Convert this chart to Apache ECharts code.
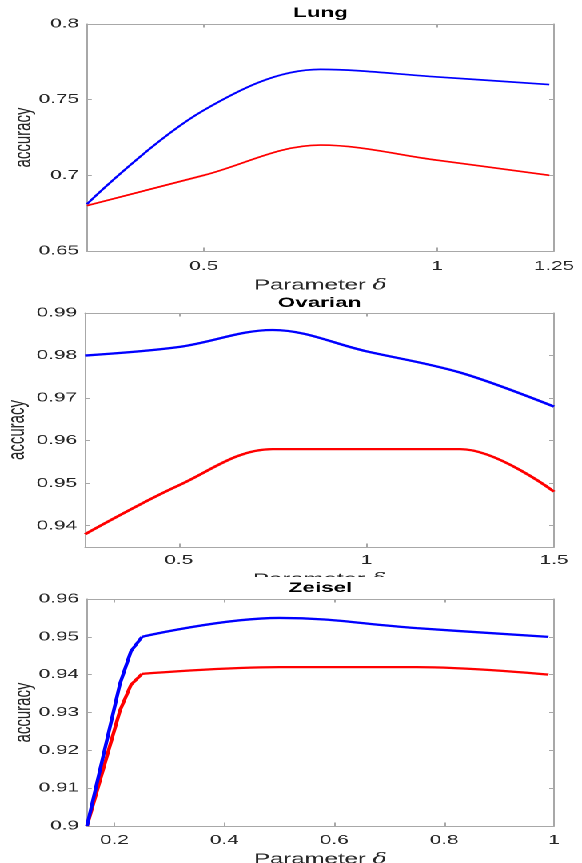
<!DOCTYPE html>
<html><head><meta charset="utf-8">
<script src="https://cdn.jsdelivr.net/npm/echarts@6/dist/echarts.min.js"></script>
<style>
html,body{margin:0;padding:0;background:#fff;width:582px;height:863px;overflow:hidden}
.c{position:absolute;left:0;width:364px;overflow:hidden;background:#fff;transform-origin:0 0;transform:scaleX(1.5989)}
</style></head>
<body>
<div id="lung" class="c" style="top:0;height:290px"></div>
<div id="ovarian" class="c" style="top:290px;height:287px"></div>
<div id="zeisel" class="c" style="top:577px;height:286px"></div>
<script>
// ---- data ----
const lungDelta = [0.25, 0.5, 0.75, 1.0, 1.24];
const lungBlue  = [0.681, 0.743, 0.770, 0.765, 0.760];
const lungRed   = [0.680, 0.700, 0.720, 0.710, 0.700];
const lungXTicks = [0.5, 1, 1.25];
const lungYTicks = [0.65, 0.7, 0.75, 0.8];

const ovarianDelta = [0.25, 0.5, 0.75, 1.0, 1.25, 1.5];
const ovarianBlue  = [0.980, 0.982, 0.986, 0.981, 0.976, 0.968];
const ovarianRed   = [0.938, 0.9495, 0.958, 0.958, 0.958, 0.948];
const ovarianXTicks = [0.5, 1, 1.5];
const ovarianYTicks = [0.94, 0.95, 0.96, 0.97, 0.98, 0.99];

const zeiselDelta = [0.15, 0.21, 0.23, 0.25, 0.5, 0.75, 0.99];
const zeiselBlue  = [0.900, 0.9376, 0.9462, 0.950, 0.955, 0.9523, 0.950];
const zeiselRed   = [0.900, 0.9305, 0.9373, 0.9402, 0.942, 0.942, 0.940];
const zeiselXTicks = [0.2, 0.4, 0.6, 0.8, 1];
const zeiselYTicks = [0.9, 0.91, 0.92, 0.93, 0.94, 0.95, 0.96];

// ---- styling ----
const W = 364;            // drawing width before the horizontal stretch
const FONT = 'Liberation Sans, Arial, Helvetica, sans-serif';
const AXIS_C = '#a8a8a8';
const TXT_C = '#262626';
const fmt = v => String(+(+v).toFixed(3));
const zip = (xs, ys) => xs.map((x, i) => [x, ys[i]]);

function build(cfg) {
  const plotCenter = cfg.left + (W - cfg.left - cfg.right) / 2;
  const xBase = {
    type: 'value', min: cfg.xMin, max: cfg.xMax,
    splitLine: {show: false},
    axisLine: {show: true, onZero: false, lineStyle: {color: AXIS_C, width: 1}},
    axisTick: {show: true, inside: true, length: 3.5, customValues: cfg.xTicks, lineStyle: {color: AXIS_C}},
  };
  const yBase = {
    type: 'value', min: cfg.yMin, max: cfg.yMax,
    splitLine: {show: false},
    axisLine: {show: true, onZero: false, lineStyle: {color: AXIS_C, width: 1}},
    axisTick: {show: true, inside: true, length: 3, customValues: cfg.yTicks, lineStyle: {color: AXIS_C}},
  };
  const series = [];
  cfg.lines.forEach(l => {
    l.parts.forEach(p => {
      series.push({
        type: 'line', data: p.data, smooth: p.smooth, showSymbol: false, symbol: 'none',
        lineStyle: {color: l.color, width: l.width}, itemStyle: {color: l.color},
        xAxisIndex: 0, yAxisIndex: 0, z: l.z, silent: true
      });
    });
  });
  return {
    animation: false,
    backgroundColor: '#fff',
    grid: {left: cfg.left, right: cfg.right, top: cfg.top, bottom: cfg.bottom,
           containLabel: false, outerBoundsMode: 'none'},
    graphic: [{
      type: 'text', x: plotCenter, y: cfg.titleY,
      style: {text: cfg.title, textAlign: 'center', verticalAlign: 'middle',
              fontFamily: FONT, fontSize: 14, fontWeight: 'bold', fill: '#000'}
    }],
    xAxis: [
      Object.assign({}, xBase, {
        position: 'bottom',
        axisLabel: {show: true, customValues: cfg.xTicks, formatter: fmt, margin: cfg.xLabelMargin,
                    fontFamily: FONT, fontSize: 13, color: TXT_C, showMinLabel: true, showMaxLabel: true},
        name: 'Parameter {d|δ}', nameLocation: 'middle', nameGap: cfg.xNameGap,
        nameTextStyle: {fontFamily: FONT, fontSize: 15, color: TXT_C,
                        rich: {d: {fontFamily: 'DejaVu Serif', fontStyle: 'italic', fontSize: 15, color: TXT_C}}}
      }),
      Object.assign({}, xBase, {position: 'top', axisLabel: {show: false}})
    ],
    yAxis: [
      Object.assign({}, yBase, {
        position: 'left',
        axisLabel: {show: true, customValues: cfg.yTicks, formatter: fmt, margin: 5,
                    fontFamily: FONT, fontSize: 13, color: TXT_C, showMinLabel: true, showMaxLabel: true},
        name: 'accuracy', nameLocation: 'middle', nameGap: cfg.yNameGap, nameMoveOverlap: false,
        nameTextStyle: {fontFamily: FONT, fontSize: 15, color: TXT_C}
      }),
      Object.assign({}, yBase, {position: 'right', axisLabel: {show: false}})
    ],
    series: series
  };
}

function parts(xs, ys, splitAt) {
  if (splitAt == null) return [{data: zip(xs, ys), smooth: 0.35}];
  return [
    {data: zip(xs.slice(0, splitAt + 1), ys.slice(0, splitAt + 1)), smooth: false},
    {data: zip(xs.slice(splitAt), ys.slice(splitAt)), smooth: 0.4}
  ];
}

const opts = {renderer: 'canvas', devicePixelRatio: 2};

const lungChart = echarts.init(document.getElementById('lung'), null, opts);
lungChart.setOption(build({
  title: 'Lung', titleY: 13,
  left: 54.4, right: 17.5, top: 24, bottom: 39,
  xMin: 0.25, xMax: 1.25, yMin: 0.65, yMax: 0.8,
  xTicks: lungXTicks, yTicks: lungYTicks,
  xLabelMargin: 9, xNameGap: 24, yNameGap: 32,
  lines: [
    {color: '#0000ff', width: 1.7, z: 3, parts: parts(lungDelta, lungBlue)},
    {color: '#ff0000', width: 1.7, z: 2, parts: parts(lungDelta, lungRed)}
  ]
}));

const ovChart = echarts.init(document.getElementById('ovarian'), null, opts);
ovChart.setOption(build({
  title: 'Ovarian', titleY: 13,
  left: 53.2, right: 17.5, top: 23, bottom: 30,
  xMin: 0.25, xMax: 1.5, yMin: 0.935, yMax: 0.99,
  xTicks: ovarianXTicks, yTicks: ovarianYTicks,
  xLabelMargin: 7, xNameGap: 18.5, yNameGap: 35,
  lines: [
    {color: '#0000ff', width: 2.3, z: 3, parts: parts(ovarianDelta, ovarianBlue)},
    {color: '#ff0000', width: 2.3, z: 2, parts: parts(ovarianDelta, ovarianRed)}
  ]
}));

const zeChart = echarts.init(document.getElementById('zeisel'), null, opts);
zeChart.setOption(build({
  title: 'Zeisel', titleY: 11,
  left: 54.4, right: 17.5, top: 22, bottom: 37,
  xMin: 0.15, xMax: 1, yMin: 0.9, yMax: 0.96,
  xTicks: zeiselXTicks, yTicks: zeiselYTicks,
  xLabelMargin: 8, xNameGap: 23.5, yNameGap: 32,
  lines: [
    {color: '#0000ff', width: 2.3, z: 3, parts: parts(zeiselDelta, zeiselBlue, 3)},
    {color: '#ff0000', width: 2.3, z: 2, parts: parts(zeiselDelta, zeiselRed, 3)}
  ]
}));
</script>
</body></html>
